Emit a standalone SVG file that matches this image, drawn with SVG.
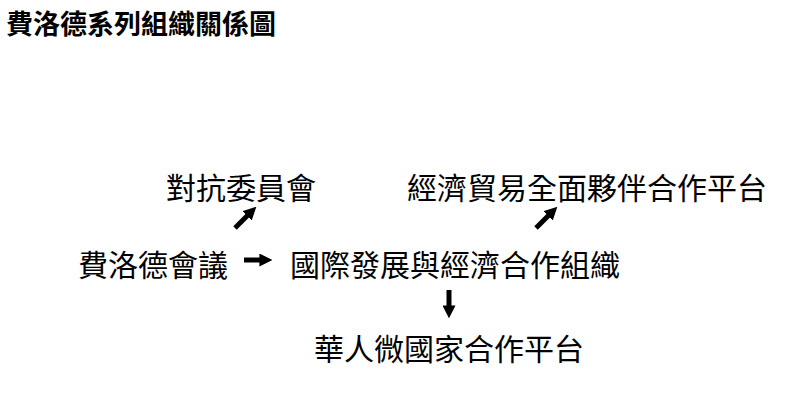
<svg xmlns="http://www.w3.org/2000/svg" width="800" height="404" viewBox="0 0 800 404">
<style>
text{font-family:"Noto Sans CJK TC","Noto Sans CJK SC",sans-serif;fill:#000;text-anchor:middle;dominant-baseline:central}
.n{font-size:30px}
.t{font-size:27px;font-weight:bold;text-anchor:start}
.c line{stroke:#000;stroke-width:5;marker-end:url(#ah)}
</style>
<defs><marker id="ah" viewBox="0 0 10 10" refX="2" refY="5" markerWidth="2.6" markerHeight="2.6" orient="auto"><path d="M0,0L10,5L0,10z" fill="#000"/></marker></defs>
<rect width="800" height="404" fill="#fff"/>
<text class="t" x="6" y="22">費洛德系列組織關係圖</text>
<g id="n1"><text class="n" x="241" y="186">對抗委員會</text></g>
<g id="n2"><text class="n" x="587" y="186">經濟貿易全面夥伴合作平台</text></g>
<g id="n3"><text class="n" x="153" y="263">費洛德會議</text></g>
<g id="n4"><text class="n" x="455" y="263">國際發展與經濟合作組織</text></g>
<g id="n5"><text class="n" x="449" y="347">華人微國家合作平台</text></g>
<g class="c">
<line x1="244" y1="260" x2="262" y2="260"/>
<line x1="235" y1="228" x2="249" y2="214"/>
<line x1="536" y1="228" x2="550" y2="214"/>
<line x1="449" y1="290" x2="449" y2="308"/>
</g>
</svg>
